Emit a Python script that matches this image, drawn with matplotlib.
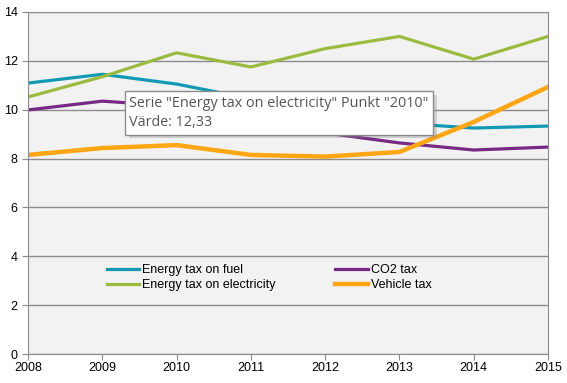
import matplotlib.pyplot as plt
from matplotlib.patches import Shadow

years = [2008, 2009, 2010, 2011, 2012, 2013, 2014, 2015]
fuel = [11.09, 11.45, 11.05, 10.45, 9.85, 9.45, 9.25, 9.33]
co2 = [9.99, 10.35, 10.15, 9.25, 9.05, 8.64, 8.35, 8.47]
electricity = [10.52, 11.35, 12.33, 11.75, 12.50, 13.00, 12.07, 13.00]
vehicle = [8.15, 8.43, 8.55, 8.15, 8.08, 8.27, 9.50, 10.93]

plt.rcParams['font.family'] = ['Liberation Sans', 'DejaVu Sans']

fig = plt.figure(figsize=(5.67, 3.83), dpi=100)
ax = fig.add_axes([0.0494, 0.0757, 0.9171, 0.893])
ax.set_facecolor('#f2f2f2')

l1, = ax.plot(years, fuel, color='#1199b4', lw=2.3, label='Energy tax on fuel')
l2, = ax.plot(years, co2, color='#772a84', lw=2.3, label='CO2 tax')
l3, = ax.plot(years, electricity, color='#9bbb40', lw=2.3, label='Energy tax on electricity')
l4, = ax.plot(years, vehicle, color='#ffa614', lw=3.2, label='Vehicle tax')

ax.set_xlim(2008, 2015)
ax.set_ylim(0, 14)
ax.set_yticks(range(0, 15, 2))
ax.set_xticks(years)
ax.yaxis.grid(True, color='#8c8c8c', lw=1)
ax.set_axisbelow(True)
for s in ax.spines.values():
    s.set_color('#8c8c8c')
ax.tick_params(colors='#8c8c8c', labelcolor='black', labelsize=9, length=4)
ax.tick_params(axis='x', pad=2)

# column-major order so rows read fuel / CO2, electricity / vehicle
ax.legend(handles=[l1, l3, l2, l4], ncol=2, frameon=False, fontsize=9,
          loc='upper left', bbox_to_anchor=(0.13, 0.295), handlelength=2.6,
          handletextpad=0.25, columnspacing=4.75, labelspacing=0.25)

txt = ax.text(0.195, 0.755, 'Serie "Energy tax on electricity" Punkt "2010"\nVärde: 12,33',
              transform=ax.transAxes, fontsize=10.4, color='#555555',
              family=['Open Sans', 'DejaVu Sans'], va='top', ha='left',
              linespacing=1.4, zorder=10,
              bbox=dict(boxstyle='square,pad=0.3', fc='white', ec='#8c8c8c', lw=1))
fig.canvas.draw()
patch = txt.get_bbox_patch()
sh = Shadow(patch, 2.5, -2.5, alpha=0.3, zorder=9)
sh.set_facecolor('#808080')
sh.set_edgecolor('none')
ax.add_artist(sh)

fig.savefig('out.png', dpi=100)
